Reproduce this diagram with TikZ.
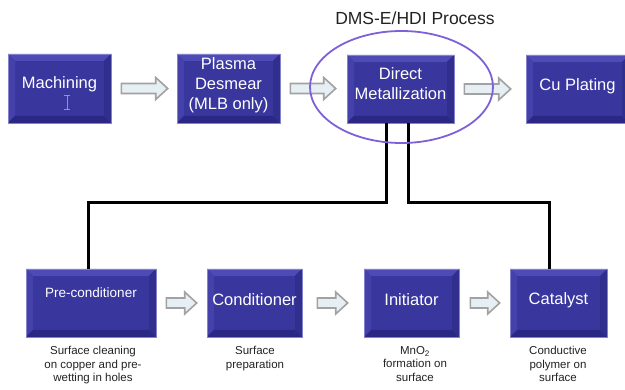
\documentclass[tikz,border=0pt]{standalone}
\usepackage{fontspec}
\setmainfont{Liberation Sans}
\usetikzlibrary{shapes.geometric,calc}

\definecolor{boxfill}{HTML}{39369E}
\definecolor{bevtop}{HTML}{4E4BB6}
\definecolor{bevleft}{HTML}{4441AA}
\definecolor{bevbottom}{HTML}{2A2884}
\definecolor{bevright}{HTML}{312F8E}
\definecolor{boxedge}{HTML}{8482CC}
\definecolor{ringcol}{HTML}{7E60D8}
\definecolor{arrowfill}{HTML}{E6F0F4}
\definecolor{arrowedge}{HTML}{A2A2A2}
\definecolor{captioncol}{HTML}{222222}

\tikzset{
  procbox/.style={draw=boxedge, line width=0.6pt, fill=boxfill, inner sep=0pt,
    minimum height=68pt,
    path picture={
      \def\bv{7pt}
      \fill[bevtop] (path picture bounding box.north west) -- (path picture bounding box.north east)
        -- ([xshift=-\bv,yshift=-\bv]path picture bounding box.north east)
        -- ([xshift=\bv,yshift=-\bv]path picture bounding box.north west) -- cycle;
      \fill[bevleft] (path picture bounding box.north west) -- (path picture bounding box.south west)
        -- ([xshift=\bv,yshift=\bv]path picture bounding box.south west)
        -- ([xshift=\bv,yshift=-\bv]path picture bounding box.north west) -- cycle;
      \fill[bevbottom] (path picture bounding box.south west) -- (path picture bounding box.south east)
        -- ([xshift=-\bv,yshift=\bv]path picture bounding box.south east)
        -- ([xshift=\bv,yshift=\bv]path picture bounding box.south west) -- cycle;
      \fill[bevright] (path picture bounding box.north east) -- (path picture bounding box.south east)
        -- ([xshift=-\bv,yshift=\bv]path picture bounding box.south east)
        -- ([xshift=-\bv,yshift=-\bv]path picture bounding box.north east) -- cycle;
    }},
  boxtext/.style={text=white, align=center, font=\fontsize{16.5}{20}\selectfont, inner sep=0pt},
  captiontext/.style={text=captioncol, align=center, anchor=north, inner sep=0pt,
    font=\fontsize{11.5}{13.5}\selectfont},
  linkline/.style={black, line width=3pt, line join=miter},
  flowarrow/.style={draw=arrowedge, fill=arrowfill, line width=1.6pt, line join=miter},
}

% hollow block arrow from node #1 to node #2, leaving gaps #3 and #4
\newcommand\blockarrow[4]{%
  \path let \p1=([xshift=#3]#1.east), \p2=([xshift=-#4]#2.west) in
    \pgfextra{}%
    [flowarrow] (\x1,{\y1+5pt}) -- ({\x2-12pt},{\y1+5pt}) -- ({\x2-12pt},{\y1+11pt})
    -- (\x2,\y1) -- ({\x2-12pt},{\y1-11pt}) -- ({\x2-12pt},{\y1-5pt}) -- (\x1,{\y1-5pt}) -- cycle;}

\begin{document}
\begin{tikzpicture}[x=1pt,y=-1pt]
\useasboundingbox (0,0) rectangle (625,390);

% main process row
\node[procbox, minimum width=103pt, minimum height=69pt] (mach) at (59.5,88.5) {};
\node[procbox, minimum width=103pt, minimum height=69pt] (plasma) at (228.5,88.5) {};
\node[procbox, minimum width=107pt] (dm) at (400.5,89) {};
\node[procbox, minimum width=103pt] (cu) at (577.5,89) {};

\node[boxtext] (machT) at ([yshift=4pt]mach.center) {Machining};
\node[boxtext] (plasmaT) at ([yshift=3pt]plasma.center) {Plasma\\Desmear\\(MLB only)};
\node[boxtext] (dmT) at ([yshift=5pt]dm.center) {Direct\\Metallization};
\node[boxtext] (cuT) at ([yshift=3pt]cu.center) {Cu Plating};

% text cursor glyph inside the first box
\draw[gray!80, line width=1pt] (64,96) -- (70,96) (67,96) -- (67,110) (64,110) -- (70,110);

% sub-process row
\node[procbox, minimum width=130pt] (pre) at (91,303) {};
\node[procbox, minimum width=95pt] (cond) at (254.5,303) {};
\node[procbox, minimum width=95pt] (init) at (411.5,303) {};
\node[procbox, minimum width=97pt] (cat) at (558.5,303) {};

\node[boxtext, font=\fontsize{13.5}{16}\selectfont] (preT) at ([yshift=10pt]pre.center) {Pre-conditioner};
\node[boxtext] (condT) at ([yshift=3pt]cond.center) {Conditioner};
\node[boxtext] (initT) at ([yshift=3pt]init.center) {Initiator};
\node[boxtext] (catT) at ([yshift=3pt]cat.center) {Catalyst};

% captions
\node[captiontext] (preC) at (93,346) {Surface cleaning\\on copper and pre-\\wetting in holes};
\node[captiontext] (condC) at (255,346) {Surface\\preparation};
\node[captiontext] (initC) at (415,346) {MnO\textsubscript{2}\\formation on\\surface};
\node[captiontext] (catC) at (558,346) {Conductive\\polymer on\\surface};

% block arrows
\blockarrow{mach}{plasma}{10pt}{9pt}
\blockarrow{plasma}{dm}{10pt}{11pt}
\blockarrow{dm}{cu}{10pt}{15pt}
\blockarrow{pre}{cond}{10pt}{10pt}
\blockarrow{cond}{init}{15pt}{16pt}
\blockarrow{init}{cat}{11pt}{10pt}

% links from Direct Metallization to its sub-process row
\coordinate (jl) at (386,203);
\coordinate (jr) at (408.5,203);
\draw[linkline] ([xshift=-14.5pt]dm.south) -- (jl) -| ([xshift=-3pt]pre.north);
\draw[linkline] ([xshift=8pt]dm.south) -- (jr) -| ([xshift=-9.5pt]cat.north);

% DMS-E/HDI ring and title
\node[ellipse, draw=ringcol, line width=1.8pt, minimum width=183pt, minimum height=112pt, inner sep=0pt]
  (ring) at (401.5,87) {};
\node[text=captioncol, font=\fontsize{17.5}{20}\selectfont, inner sep=0pt] (title) at (415,18) {DMS-E/HDI Process};
\end{tikzpicture}
\end{document}
